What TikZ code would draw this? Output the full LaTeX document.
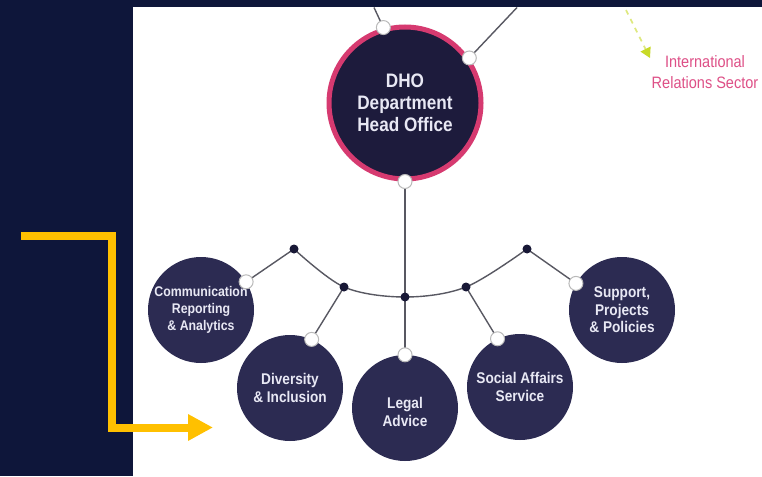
\documentclass[tikz,border=0pt]{standalone}
\usepackage{fontspec}
\setmainfont{Liberation Sans}
\newfontfamily\condsans[FakeStretch=0.88]{Liberation Sans}
\usetikzlibrary{arrows.meta,calc}

\definecolor{panelnavy}{RGB}{14,22,58}
\definecolor{unitfill}{RGB}{44,43,82}
\definecolor{headfill}{RGB}{29,27,60}
\definecolor{ringpink}{RGB}{214,58,112}
\definecolor{linkgray}{RGB}{88,88,98}
\definecolor{jointnavy}{RGB}{24,24,54}
\definecolor{labelpink}{RGB}{222,80,135}
\definecolor{pointergreen}{RGB}{200,218,40}
\definecolor{flowyellow}{RGB}{255,192,0}
\definecolor{unittext}{RGB}{232,232,244}

\pgfdeclarelayer{back}
\pgfdeclarelayer{edges}
\pgfsetlayers{back,edges,main}

\begin{document}
\begin{tikzpicture}[x=1pt,y=-1pt,
  headunit/.style={circle, fill=headfill, draw=ringpink, line width=5pt,
    minimum size=152pt, inner sep=0pt, text=unittext, align=center,
    font=\condsans\bfseries\fontsize{19.5}{22}\selectfont},
  unit/.style={circle, fill=unitfill, minimum size=106pt, inner sep=0pt,
    text=unittext, align=center,
    font=\condsans\bfseries\fontsize{15.5}{17.5}\selectfont},
  unitlabel/.style={text=unittext, align=center, inner sep=0pt,
    font=\condsans\bfseries\fontsize{15.5}{17.5}\selectfont},
  smallunit/.style={unit, font=\condsans\bfseries\fontsize{14}{17}\selectfont},
  port/.style={circle, fill=white, draw=gray!55, line width=1pt,
    minimum size=14pt, inner sep=0pt},
  joint/.style={circle, fill=jointnavy, minimum size=9pt, inner sep=0pt},
  link/.style={draw=linkgray, line width=1.4pt},
  flow/.style={draw=flowyellow, line width=8pt, miter limit=10,
    -{Triangle[length=25pt,width=25pt]}},
  pointer/.style={draw=pointergreen!60!white, line width=1.6pt,
    dash pattern=on 5pt off 5pt,
    -{Triangle[length=10pt,width=11pt,fill=pointergreen,color=pointergreen]}}
]
\useasboundingbox (0,0) rectangle (762,476);

% page ground: white sheet, navy side panel and top band
\begin{pgfonlayer}{back}
  \fill[white] (0,0) rectangle (762,476);
  \fill[panelnavy] (0,0) rectangle (133,476);
  \fill[panelnavy] (0,0) rectangle (762,7.5);
\end{pgfonlayer}

% head office
\node[headunit] (dho) at (405,103) {DHO\\Department\\Head Office};

% units
\node[smallunit] (comm) at (201,310) {Communication\\Reporting\\\& Analytics};
\node[unit] (div) at (290,388) {Diversity\\\& Inclusion};
\node[unit, label={[unitlabel, yshift=-4pt]center:{Legal\\Advice}}] (legal) at (405,408) {};
\node[unit] (social) at (520,387) {Social Affairs\\Service};
\node[unit] (supp) at (622,310) {Support,\\Projects\\\& Policies};

% ports on the circle rims
\node[port] (dhoa) at (dho.106) {};
\node[port] (dhob) at (dho.35) {};
\node[port] (dhos) at (dho.south) {};
\node[port] (pcomm) at (comm.32) {};
\node[port] (pdiv) at (div.66) {};
\node[port] (plegal) at (legal.north) {};
\node[port] (psocial) at (social.115) {};
\node[port] (psupp) at (supp.150) {};

% joints on the distribution arc
\node[joint] (j1) at (294,249) {};
\node[joint] (j2) at (344,287) {};
\node[joint] (hub) at (405,297) {};
\node[joint] (j4) at (466,287) {};
\node[joint] (j5) at (527,249) {};

% links leaving the head office upwards
\coordinate (upa) at (374,7.5);
\coordinate (upb) at (517,7.5);

\begin{pgfonlayer}{edges}
  \draw[link] (dhoa.center) -- (upa);
  \draw[link] (dhob.center) -- (upb);
  \draw[link] (dhos.center) -- (hub.center) -- (plegal.center);
  \draw[link] plot[smooth, tension=0.55] coordinates {(j1) (j2) (hub) (j4) (j5)};
  \draw[link] (pcomm.center) -- (j1.center);
  \draw[link] (pdiv.center) -- (j2.center);
  \draw[link] (psocial.center) -- (j4.center);
  \draw[link] (psupp.center) -- (j5.center);
\end{pgfonlayer}

% international relations sector reference
\coordinate (ptrstart) at (626,10);
\coordinate (ptrend) at (650,58);
\draw[pointer] (ptrstart) -- (ptrend);
\node[text=labelpink, align=center,
  font=\condsans\fontsize{16.5}{21}\selectfont] (irs) at (705,72)
  {International\\Relations Sector};

% yellow flow arrow
\coordinate (flowstart) at (21,236);
\coordinate (flowend) at (213,427.5);
\draw[flow] (flowstart) -- (111.5,236) -- (111.5,427.5) -- (flowend);

\end{tikzpicture}
\end{document}
